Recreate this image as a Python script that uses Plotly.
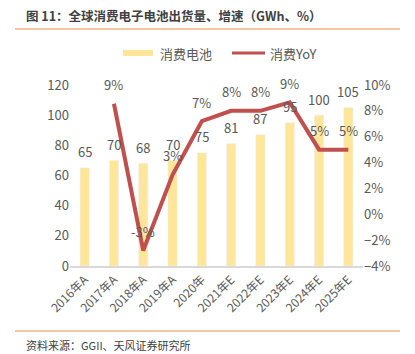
import plotly.graph_objects as go

categories = ["2016年A", "2017年A", "2018年A", "2019年A", "2020年", "2021年E",
              "2022年E", "2023年E", "2024年E", "2025年E"]
shipments = [65, 70, 68, 70, 75, 81, 87, 95, 100, 105]
yoy = [None, 8.55, -2.8, 3.05, 7.2, 8.0, 8.0, 8.65, 5.0, 5.0]
yoy_labels = ["", "9%", "-3%", "3%", "7%", "8%", "8%", "9%", "5%", "5%"]

FONT = "Noto Sans CJK SC"
GREY = "#595959"
BAR_C = "#FFE699"
LINE_C = "#C0504D"

fig = go.Figure()
fig.add_trace(go.Bar(
    x=categories, y=shipments, name="消费电池",
    marker_color=BAR_C, width=0.31, showlegend=False,
))
fig.add_trace(go.Scatter(
    x=categories, y=yoy, name="消费YoY", yaxis="y2", showlegend=False,
    mode="lines", line=dict(color=LINE_C, width=4),
))

for c, v in zip(categories, shipments):
    fig.add_annotation(x=c, y=v, xref="x", yref="y", text=str(v), showarrow=False,
                       yanchor="middle", yshift=16,
                       font=dict(size=13, color=GREY, family=FONT))
for c, v, t in zip(categories, yoy, yoy_labels):
    if v is None:
        continue
    fig.add_annotation(x=c, y=v, xref="x", yref="y2", text=t, showarrow=False,
                       yanchor="middle", yshift=19,
                       font=dict(size=13, color=GREY, family=FONT))

W, H = 415, 354
L, R, T, B = 70, 52, 85, 88
pw, ph = W - L - R, H - T - B
def px(x):
    return (x - L) / pw
def py(y):
    return (H - B - y) / ph

fig.update_layout(
    width=W, height=H,
    margin=dict(l=L, r=R, t=T, b=B),
    paper_bgcolor="white", plot_bgcolor="white",
    font=dict(family=FONT, color=GREY, size=12),
    showlegend=False,
    xaxis=dict(tickangle=-45, showgrid=False, showline=True, linecolor="#D9D9D9",
               linewidth=2, ticks="", tickfont=dict(size=12, color=GREY)),
    yaxis=dict(range=[0, 120], dtick=20, showgrid=False, zeroline=False,
               tickfont=dict(size=13, color=GREY), ticks=""),
    yaxis2=dict(range=[-4, 10], dtick=2, overlaying="y", side="right", showgrid=False,
                zeroline=False, ticksuffix="%", tickfont=dict(size=13, color=GREY), ticks=""),
)

# custom legend
fig.add_shape(type="rect", xref="paper", yref="paper", x0=px(123), x1=px(153),
              y0=py(56), y1=py(50), fillcolor=BAR_C, line=dict(width=0))
fig.add_annotation(xref="paper", yref="paper", x=px(158), y=py(53), xanchor="left",
                   yanchor="middle", showarrow=False, text="消费电池",
                   font=dict(size=13, color=GREY, family=FONT))
fig.add_shape(type="line", xref="paper", yref="paper", x0=px(232), x1=px(265),
              y0=py(53), y1=py(53), line=dict(color=LINE_C, width=3))
fig.add_annotation(xref="paper", yref="paper", x=px(268), y=py(53), xanchor="left",
                   yanchor="middle", showarrow=False, text="消费YoY",
                   font=dict(size=13, color=GREY, family=FONT))

fig.add_shape(type="line", xref="paper", yref="paper", x0=px(15), x1=px(400),
              y0=py(29), y1=py(29), line=dict(color="#F4B183", width=1.5))
fig.add_shape(type="line", xref="paper", yref="paper", x0=px(15), x1=px(400),
              y0=py(331), y1=py(331), line=dict(color="#F4B183", width=1.5))
fig.add_annotation(xref="paper", yref="paper", x=px(24), y=py(15), xanchor="left",
                   yanchor="middle", showarrow=False,
                   text="<b>图 11：全球消费电子电池出货量、增速（GWh、%）</b>",
                   font=dict(size=12.5, color="#404040", family=FONT))
fig.add_annotation(xref="paper", yref="paper", x=px(24), y=py(345), xanchor="left",
                   yanchor="middle", showarrow=False,
                   text="资料来源：GGII、天风证券研究所",
                   font=dict(size=11, color="#404040", family=FONT))

fig.write_html("out.html")
